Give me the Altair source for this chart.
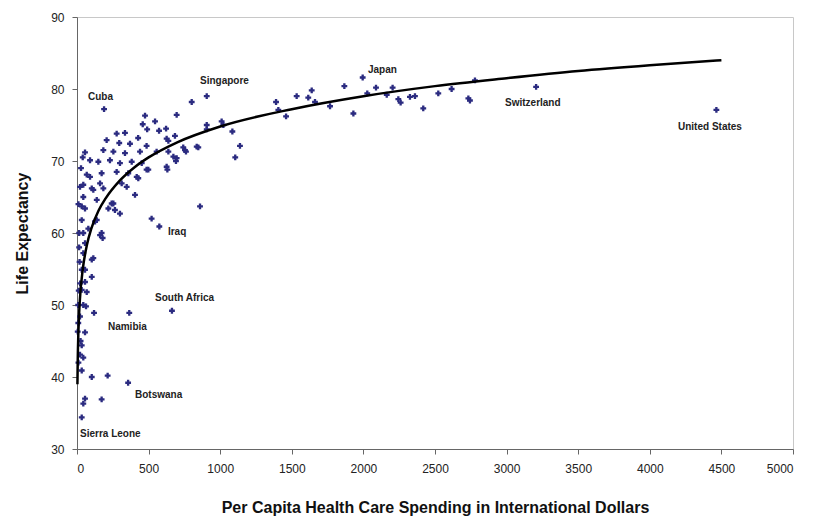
import altair as alt
import pandas as pd

# Per capita health spending (international $) and life expectancy
spending = [
    189, 906, 1995, 3206, 4465, 575, 663, 365, 357, 33,
    475, 545, 459, 490, 573, 277, 335, 427, 207, 295, 370, 486, 626, 184, 254,
    335, 440, 56, 91, 149, 230, 300, 382, 452, 498, 172, 277, 358, 428, 91,
    44, 161, 626, 312, 696, 801, 622, 684, 638, 906, 906, 1010, 1022, 1085, 1138,
    1105, 836, 754, 742, 761, 847, 638, 696, 673, 691, 631, 556, 486, 417, 347,
    405, 859, 521, 300, 254, 219, 172, 138, 103, 103, 56, 33, 33, 44, 21,
    68, 114, 79, 44, 44, 33, 184, 103, 138, 56, 242, 265, 126, 161, 179,
    114, 56, 56, 33, 68, 44, 63, 119, 21, 9, 5, 56, 33, 21, 44,
    33, 103, 214, 56, 172, 44, 10, 15, 12, 25, 10, 18, 28, 40, 15,
    8, 22, 1390, 1406, 1460, 1534, 1615, 1639, 1662, 1767, 1867, 1930, 2027, 2088, 2163,
    2204, 2244, 2260, 2325, 2360, 2418, 2523, 2616, 2733, 2744, 2779,
]
life = [
    77.2, 79.0, 81.6, 80.3, 77.1, 60.9, 49.2, 48.9, 39.2, 34.4,
    76.3, 75.5, 75.1, 74.4, 74.2, 73.8, 73.9, 73.2, 72.9, 72.5, 72.4, 72.1, 73.1, 71.5, 71.3,
    71.1, 71.3, 71.2, 70.1, 69.9, 70.1, 69.7, 69.9, 69.7, 68.8, 68.3, 68.5, 68.3, 67.6, 67.8,
    66.7, 66.9, 69.2, 66.9, 76.4, 78.2, 74.5, 73.5, 72.8, 75.0, 74.4, 75.5, 75.0, 74.1, 72.1,
    70.5, 72.0, 71.5, 71.9, 71.3, 71.9, 71.3, 70.4, 70.6, 70.0, 68.8, 71.3, 68.8, 67.8, 66.4,
    65.3, 63.7, 62.0, 62.7, 64.1, 63.4, 60.0, 61.8, 56.3, 53.9, 58.6, 61.8, 63.7, 65.0, 66.4,
    68.1, 66.0, 60.6, 60.0, 57.2, 54.9, 66.2, 66.2, 64.6, 63.4, 64.1, 63.2, 61.6, 59.7, 59.3,
    56.5, 54.9, 53.2, 52.1, 51.8, 50.0, 49.8, 48.9, 48.4, 47.5, 46.3, 46.2, 44.4, 43.1, 42.7,
    40.9, 40.0, 40.2, 37.0, 36.9, 36.3, 64.0, 58.0, 52.0, 45.0, 42.0, 56.0, 69.0, 70.5, 60.0,
    50.0, 53.0, 78.2, 77.1, 76.2, 79.0, 78.8, 79.8, 78.2, 77.6, 80.4, 76.6, 79.4, 80.2, 79.2,
    80.2, 78.6, 78.1, 78.9, 79.0, 77.3, 79.4, 80.0, 78.7, 78.4, 81.2,
]

# Logarithmic trend line
trend_x = [3, 5, 10, 20, 40, 70, 100, 150, 200, 300, 400, 500, 700, 1000,
           1500, 2000, 2500, 3000, 3500, 4000, 4500]
trend_y = [39.0, 42.1, 46.4, 50.7, 54.9, 58.4, 60.6, 63.1, 64.8, 67.3, 69.1,
           70.5, 72.6, 74.8, 77.2, 79.0, 80.4, 81.5, 82.5, 83.3, 84.0]

label_names = ["Cuba", "Singapore", "Japan", "Switzerland", "United States",
               "Iraq", "South Africa", "Namibia", "Botswana", "Sierra Leone"]
label_x = [77, 859, 2032, 2989, 4197, 635, 545, 216, 405, 21]
label_y = [78.9, 81.1, 82.6, 78.1, 74.7, 60.1, 51.0, 47.0, 37.5, 32.1]

pts = pd.DataFrame({"spend": spending, "life": life})
curve = pd.DataFrame({"spend": trend_x, "life": trend_y})
labels = pd.DataFrame({"name": label_names, "lx": label_x, "ly": label_y})

FONT = "Liberation Sans"

xscale = alt.Scale(domain=[0, 5000], nice=False)
yscale = alt.Scale(domain=[30, 90], nice=False, zero=False)

xaxis = alt.Axis(
    title="Per Capita Health Care Spending in International Dollars",
    values=list(range(0, 5001, 500)), format="d", grid=False, labelFontSize=12,
    labelPadding=9, tickSize=5, titleFontSize=16, titleFontWeight="bold",
    titleY=58, titleBaseline="middle",
)
yaxis = alt.Axis(
    title="Life Expectancy", values=list(range(30, 91, 10)), format="d",
    grid=False, labelFontSize=12, labelPadding=8, tickSize=5, titleFontSize=16,
    titleFontWeight="bold", titleX=-55, titleY=216, titleAngle=-90,
    titleAlign="center", titleBaseline="middle",
)

points = alt.Chart(pts).mark_point(
    shape="cross", filled=True, size=34, color="#2b2b80", opacity=1
).encode(
    x=alt.X("spend:Q", scale=xscale, axis=xaxis),
    y=alt.Y("life:Q", scale=yscale, axis=yaxis),
)

trend = alt.Chart(curve).mark_line(
    color="black", strokeWidth=2.5, interpolate="monotone"
).encode(
    x=alt.X("spend:Q", scale=xscale),
    y=alt.Y("life:Q", scale=yscale),
)

text = alt.Chart(labels).mark_text(
    align="left", baseline="middle", fontSize=10, fontWeight="bold",
    font=FONT, color="#222222"
).encode(
    x=alt.X("lx:Q", scale=xscale),
    y=alt.Y("ly:Q", scale=yscale),
    text="name:N",
)

chart = alt.layer(points, trend, text).properties(
    width=716, height=432,
    autosize=alt.AutoSizeParams(type="none"),
    padding={"left": 69, "top": 9, "right": 16, "bottom": 68},
).configure(font=FONT).configure_axis(
    domainColor="#666666", tickColor="#666666", labelColor="#222222",
    titleColor="#111111", labelFont=FONT, titleFont=FONT,
).configure_view(stroke="#c8c8c8", strokeWidth=1)

chart.save("out.html", embed_options={"renderer": "svg", "actions": False})
